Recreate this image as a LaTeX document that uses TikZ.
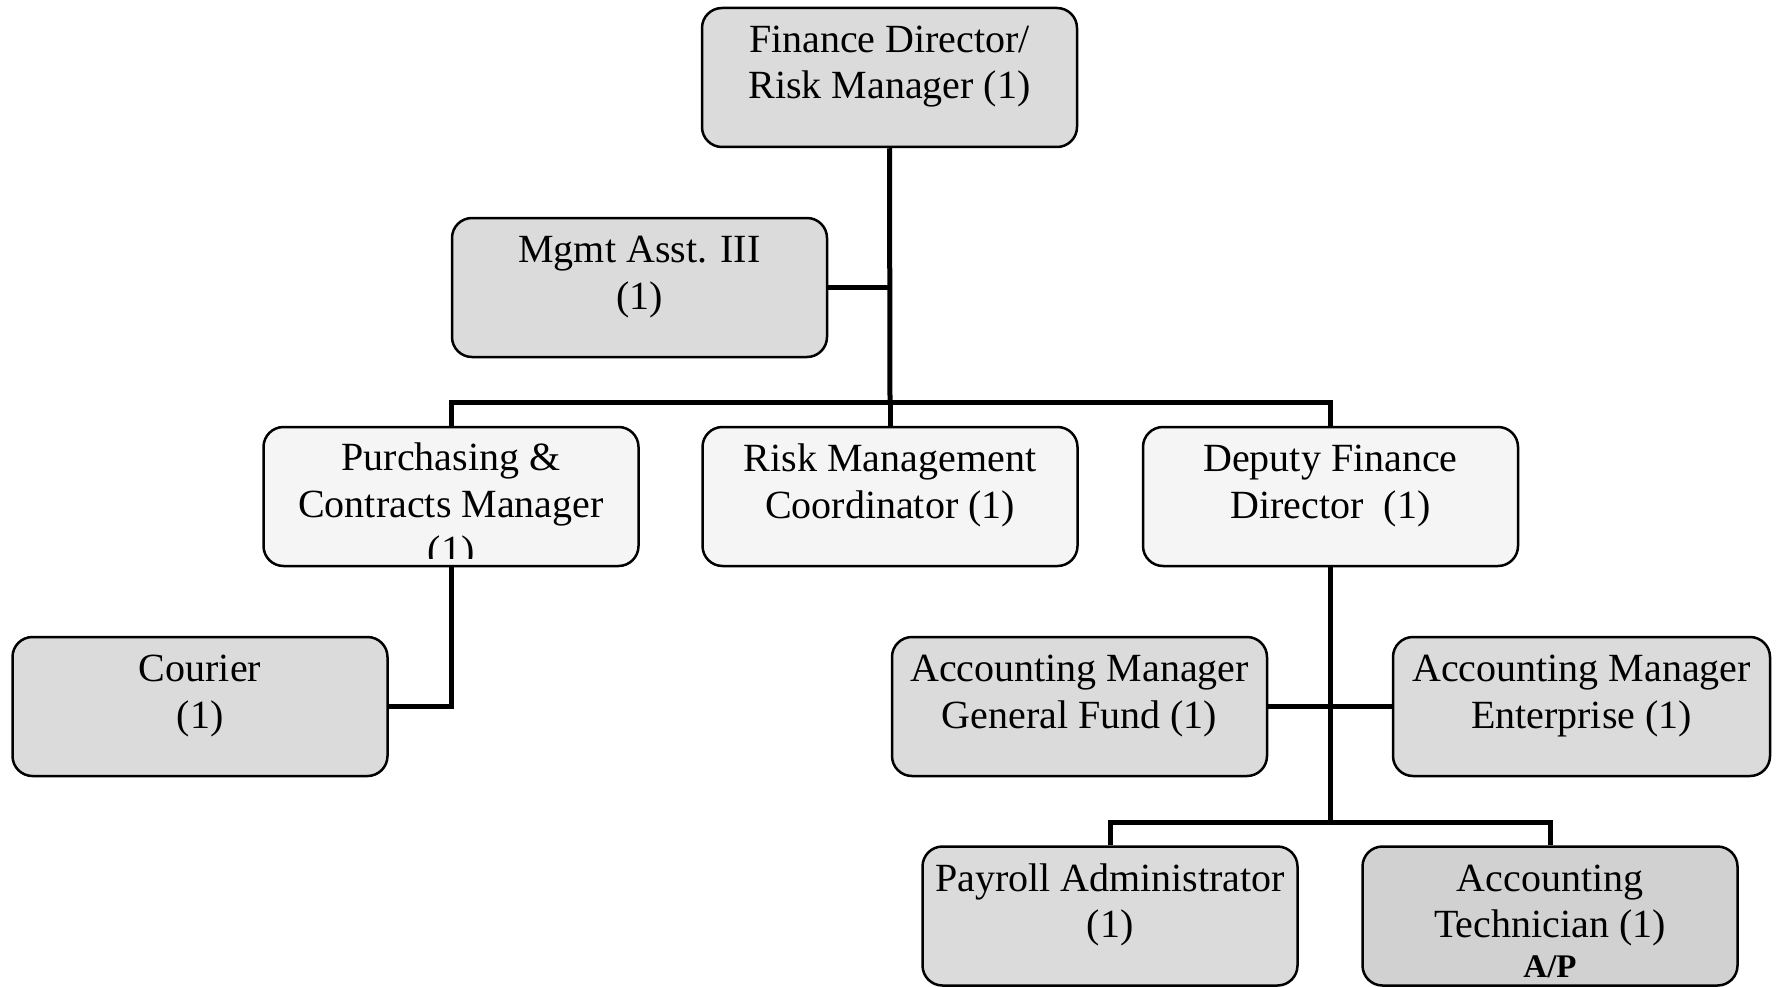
\documentclass[tikz,border=0pt]{standalone}
\usepackage{fontspec}
\setmainfont{Liberation Serif}
\definecolor{shD}{gray}{0.86}
\definecolor{shK}{gray}{0.82}
\definecolor{shL}{gray}{0.96}
\begin{document}
\begin{tikzpicture}[x=1pt,y=-1pt,
  box/.style={draw=black, line width=2.5pt, rounded corners=20pt, minimum width=375pt, minimum height=139pt, inner sep=0pt},
  dark/.style={box, fill=shD},
  darker/.style={box, fill=shK},
  light/.style={box, fill=shL},
  txt/.style={anchor=north, align=center, inner sep=0pt, font=\fontsize{40}{46.5}\selectfont},
  conn/.style={draw=black, line width=5pt}]
\useasboundingbox (0,0) rectangle (1779,987);
\fill[white] (0,0) rectangle (1779,987);

% boxes
\node[dark]  (fd)  at (889.5,77.5) {};
\node[dark]  (ma)  at (639.5,287.5) {};
\node[light] (pc)  at (451,496.5) {};
\node[light] (rmc) at (890,496.5) {};
\node[light] (dfd) at (1330.5,496.5) {};
\node[dark]  (cr)  at (200,706.5) {};
\node[dark]  (agf) at (1079.5,706.5) {};
\node[dark, minimum width=377pt] (ame) at (1581.5,706.5) {};
\node[dark]  (pa)  at (1110,916) {};
\node[darker] (at) at (1550,916) {};

% junctions
\coordinate (j1) at (890,402);
\coordinate (j2) at (1330.5,822);

% connectors
\draw[conn] (fd.south) -- (j1);
\draw[conn] (ma.east) -- (ma.east -| j1);
\draw[conn] (pc.north) |- (j1) -| (dfd.north);
\draw[conn] (j1) -- (rmc.north);
\draw[conn] (pc.south) |- (cr.east);
\draw[conn] (dfd.south) -- (j2);
\draw[conn] (agf.east) -- (ame.west);
\draw[conn] (pa.north) |- (j2) -| (at.north);

% texts
\node[txt] (fdt)  at ([yshift=-13pt]fd.north)  {\strut Finance Director/\\Risk Manager (1)};
\node[txt] (mat)  at ([yshift=-13pt]ma.north)  {\strut Mgmt Asst. III\\(1)};
\begin{scope}
\clip ([xshift=2pt,yshift=-2pt]pc.north west) rectangle ([xshift=-2pt,yshift=9pt]pc.south east);
\node[txt] (pct)  at ([yshift=-12pt]pc.north)  {\strut Purchasing \&\\Contracts Manager\\(1)};
\end{scope}
\node[txt] (rmct) at ([yshift=-13pt]rmc.north) {\strut Risk Management\\Coordinator (1)};
\node[txt] (dfdt) at ([yshift=-13pt]dfd.north) {\strut Deputy Finance\\Director~~(1)};
\node[txt] (crt)  at ([yshift=-13pt]cr.north)  {\strut Courier\\(1)};
\node[txt] (agft) at ([yshift=-13pt]agf.north) {\strut Accounting Manager\\General Fund (1)};
\node[txt] (amet) at ([yshift=-13pt]ame.north) {\strut Accounting Manager\\Enterprise (1)};
\node[txt] (pat)  at ([yshift=-13pt]pa.north)  {\strut Payroll Administrator\\(1)};
\node[txt] (att)  at ([yshift=-13pt]at.north)  {\strut Accounting\\Technician (1)};
\node[inner sep=0pt, font=\fontsize{33}{38}\selectfont\bfseries] (atap) at (1550,967) {A/P};
\end{tikzpicture}
\end{document}
